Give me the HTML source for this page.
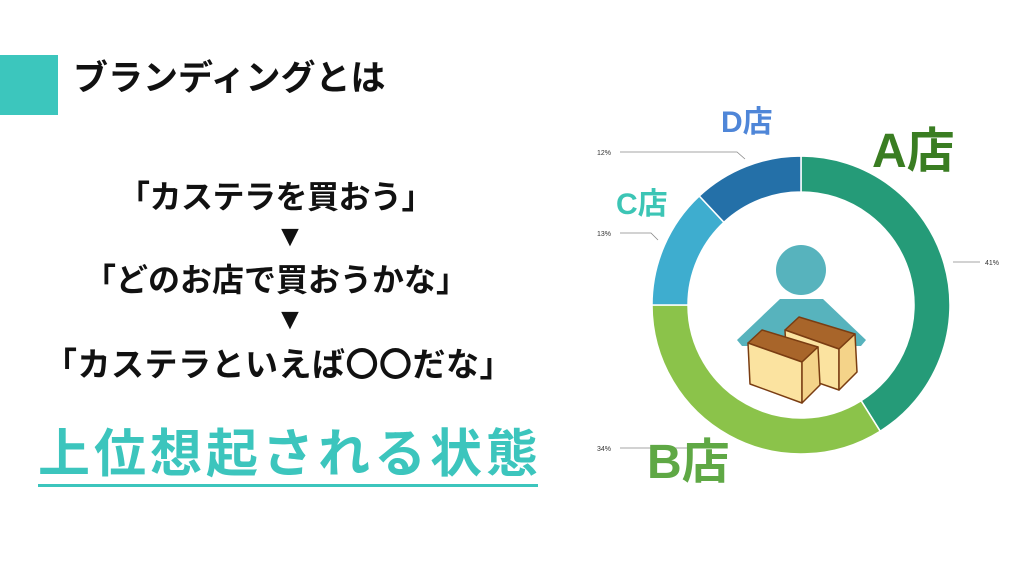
<!DOCTYPE html>
<html><head><meta charset="utf-8"><style>
html,body{margin:0;padding:0;background:#fff;}
body{width:1024px;height:573px;position:relative;overflow:hidden;font-family:"Liberation Sans","Noto Sans CJK JP",sans-serif;}
.t{position:absolute;white-space:nowrap;font-weight:bold;}
</style></head><body>
<div style="position:absolute;left:0;top:55px;width:58px;height:60px;background:#3cc6bd"></div>
<div class="t" style="left:73px;top:59px;font-size:35px;line-height:40px;color:#111">ブランディングとは</div>
<div class="t" style="left:118px;top:178px;font-size:32px;line-height:38px;color:#111;letter-spacing:-0.5px">「カステラを買おう」</div>
<div class="t" style="left:0;width:580px;text-align:center;top:220px;font-size:30px;line-height:34px;color:#111">▼</div>
<div class="t" style="left:84px;top:261px;font-size:32px;line-height:38px;color:#111;letter-spacing:0px">「どのお店で買おうかな」</div>
<div class="t" style="left:44px;top:346px;font-size:33px;line-height:38px;color:#111;letter-spacing:0.5px">「カステラといえば〇〇だな」</div>
<div class="t" style="left:0;width:580px;text-align:center;top:303px;font-size:30px;line-height:34px;color:#111">▼</div>
<div class="t" style="left:38px;top:425px;font-size:52px;line-height:60px;letter-spacing:4px;color:#3cc5bd">上位想起される状態</div>
<div style="position:absolute;left:38px;top:484px;width:500px;height:3px;background:#3cc5bd"></div>

<svg width="1024" height="573" style="position:absolute;left:0;top:0" xmlns="http://www.w3.org/2000/svg">
<g stroke="#fff" stroke-width="1.5">
<path d="M801,156 A149,149 0 0 1 880.2,431.2 L861.1,400.7 A113,113 0 0 0 801,192 Z" fill="#259b78"/>
<path d="M880.2,431.2 A149,149 0 0 1 652,305 L688,305 A113,113 0 0 0 861.1,400.7 Z" fill="#8bc34a"/>
<path d="M652,305 A149,149 0 0 1 699.3,196 L723.9,222.3 A113,113 0 0 0 688,305 Z" fill="#3eadcf"/>
<path d="M699.3,196 A149,149 0 0 1 801,156 L801,192 A113,113 0 0 0 723.9,222.3 Z" fill="#2470a8"/>
</g>
<g stroke="#888" stroke-width="0.8" fill="none">
<polyline points="620,152 737,152 745,159"/>
<polyline points="620,233 651,233 658,240"/>
<polyline points="953,262 980,262"/>
<polyline points="620,448 720,448 724,443"/>
</g>
<g font-family="Liberation Sans,sans-serif" font-size="7" fill="#333">
<text x="597" y="155">12%</text><text x="597" y="236">13%</text>
<text x="985" y="265">41%</text><text x="597" y="451">34%</text>
</g>
<circle cx="801" cy="270" r="25" fill="#57b3bd"/>
<path d="M780,299 L823,299 L866,340 L861,346 L742,346 L737,340 Z" fill="#57b3bd"/>
<g stroke="#7a3d12" stroke-width="1.5" stroke-linejoin="round">
<path d="M785,330 L799,317 L855,334 L839,349 Z" fill="#a8652a"/>
<path d="M785,330 L839,349 L839,390 L787,372 Z" fill="#fbe3a0"/>
<path d="M839,349 L855,334 L857,372 L839,390 Z" fill="#f4d389"/>
<path d="M748,343 L762,330 L818,347 L802,362 Z" fill="#a8652a"/>
<path d="M748,343 L802,362 L802,403 L750,384 Z" fill="#fbe3a0"/>
<path d="M802,362 L818,347 L820,385 L802,403 Z" fill="#f4d389"/>
</g>
</svg>
<div class="t" style="left:872px;top:124px;font-size:48px;line-height:56px;color:#3a7d22">A店</div>
<div class="t" style="left:647px;top:435px;font-size:48px;line-height:56px;color:#5fa845">B店</div>
<div class="t" style="left:616px;top:187px;font-size:30px;line-height:36px;color:#3cc5b5">C店</div>
<div class="t" style="left:721px;top:105px;font-size:30px;line-height:36px;color:#4f86d8">D店</div>
</body></html>
